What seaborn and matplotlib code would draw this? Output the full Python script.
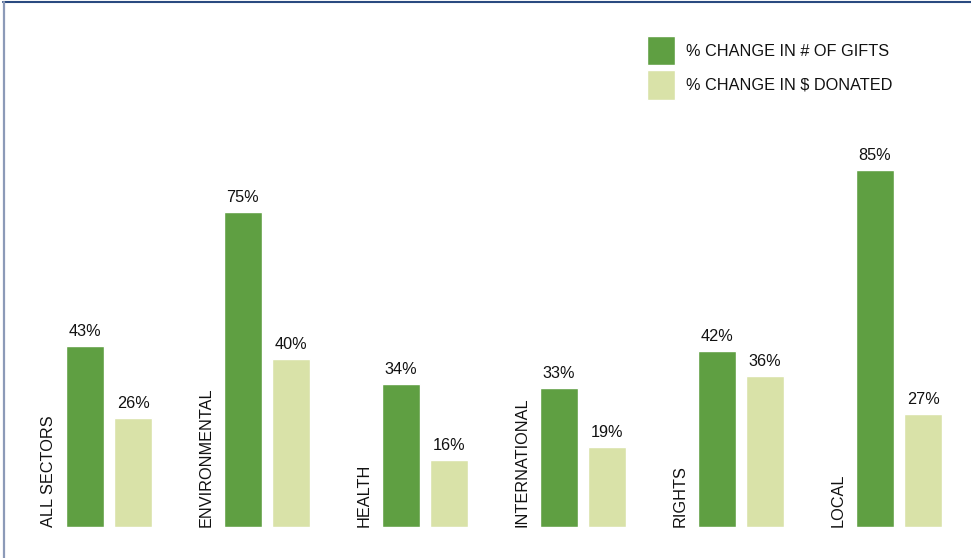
import matplotlib
matplotlib.use("Agg")
import matplotlib.pyplot as plt
from matplotlib.lines import Line2D
import pandas as pd
import seaborn as sns

# Sector categories and the two measured changes (percent)
sectors = ["ALL SECTORS", "ENVIRONMENTAL", "HEALTH", "INTERNATIONAL", "RIGHTS", "LOCAL"]
gifts_change = [43, 75, 34, 33, 42, 85]
donated_change = [26, 40, 16, 19, 36, 27]
series_names = ["% CHANGE IN # OF GIFTS", "% CHANGE IN $ DONATED"]

df = pd.DataFrame({
    "sector": sectors * 2,
    "series": [series_names[0]] * len(sectors) + [series_names[1]] * len(sectors),
    "value": gifts_change + donated_change,
})

sns.set_theme(style="white")
plt.rcParams["font.family"] = ["Liberation Sans", "DejaVu Sans"]
plt.rcParams["text.color"] = "#111111"

W, H = 971, 558
FS = 11.7
TXT = "#111111"
fig = plt.figure(figsize=(W / 100, H / 100), dpi=100)
fig.patch.set_facecolor("white")

# axes occupying the drawing area; baseline near the bottom edge
ax = fig.add_axes([20 / W, 31 / H, 951 / W, 527 / H])

palette = {series_names[0]: "#5f9f42", series_names[1]: "#d9e2a8"}
sns.barplot(data=df, x="sector", y="value", hue="series", order=sectors,
            hue_order=series_names, palette=palette, width=0.612, gap=0.216,
            saturation=1, ax=ax, legend=True)

px_per_unit = 158.0
ax.set_xlim((20 - 109) / px_per_unit, (971 - 109) / px_per_unit)
ax.set_ylim(0, 527 / 4.2)

for container in ax.containers:
    ax.bar_label(container, fmt="{:.0f}%", padding=5, fontsize=FS, color=TXT)

# rotated sector names beside each group
for i, name in enumerate(sectors):
    ax.text(i - 0.385, 0, name, rotation=90, ha="center", va="bottom",
            fontsize=FS, color=TXT)

ax.set_xticks([])
ax.set_yticks([])
ax.set_xlabel("")
ax.set_ylabel("")
for s in ax.spines.values():
    s.set_visible(False)
ax.patch.set_alpha(0)

handles, labels = ax.get_legend_handles_labels()
leg = ax.legend(handles, labels, loc="upper left",
                bbox_to_anchor=(647 / W, 1 - 36 / H), bbox_transform=fig.transFigure,
                frameon=False, fontsize=FS, handlelength=1.75, handleheight=2.4,
                handletextpad=0.62, labelspacing=0.3, borderpad=0, borderaxespad=0)
for t in leg.get_texts():
    t.set_color(TXT)

# frame lines along the top and left edges
fig.add_artist(Line2D([3 / W, 1], [1 - 2 / H, 1 - 2 / H], transform=fig.transFigure,
                      color="#2a4a80", linewidth=1.5))
fig.add_artist(Line2D([3.5 / W, 3.5 / W], [0, 1 - 2 / H], transform=fig.transFigure,
                      color="#8c9ab8", linewidth=1.6))

fig.savefig("out.png", dpi=100)
